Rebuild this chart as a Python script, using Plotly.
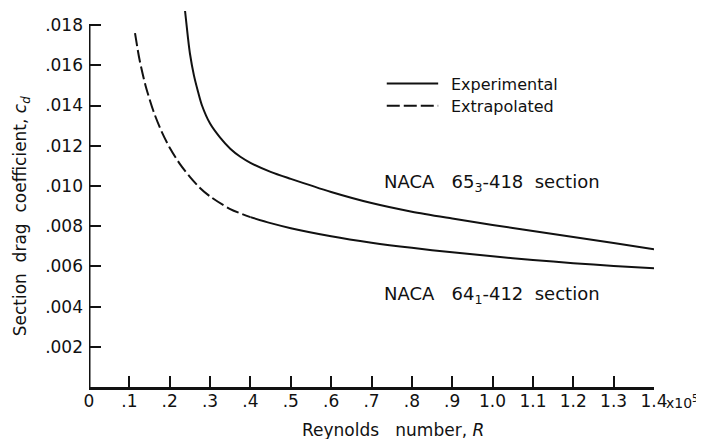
import plotly.graph_objects as go

# NACA 65_3-418 section (experimental, solid)
x_65 = [0.238, 0.245, 0.25, 0.26, 0.27, 0.28, 0.30, 0.325, 0.35, 0.375, 0.40, 0.45, 0.5,
        0.6, 0.7, 0.8, 0.9, 1.0, 1.1, 1.2, 1.3, 1.4]
cd_65 = [0.0187, 0.0174, 0.0166, 0.0155, 0.0147, 0.0140, 0.0131, 0.0124, 0.01185, 0.01145,
         0.01115, 0.01070, 0.01035, 0.00970, 0.00915, 0.00872, 0.00838, 0.00806, 0.00776,
         0.00746, 0.00716, 0.00685]

# NACA 64_1-412 section: extrapolated (dashed) part
x_64_ext = [0.114, 0.125, 0.14, 0.16, 0.18, 0.20, 0.225, 0.25, 0.275, 0.30, 0.35, 0.40]
cd_64_ext = [0.0176, 0.0163, 0.0150, 0.0137, 0.0127, 0.0119, 0.0111, 0.01045, 0.0099,
             0.00948, 0.00885, 0.00845]
# NACA 64_1-412 section: experimental (solid) part
x_64_exp = [0.40, 0.45, 0.5, 0.6, 0.7, 0.8, 0.9, 1.0, 1.1, 1.2, 1.3, 1.4]
cd_64_exp = [0.00845, 0.00815, 0.0079, 0.0075, 0.00718, 0.00692, 0.0067, 0.0065, 0.00632,
             0.00616, 0.00602, 0.0059]

x_tickvals = [0, 0.1, 0.2, 0.3, 0.4, 0.5, 0.6, 0.7, 0.8, 0.9, 1.0, 1.1, 1.2, 1.3, 1.4]
x_ticktext = ["0", ".1", ".2", ".3", ".4", ".5", ".6", ".7", ".8", ".9", "1.0", "1.1",
              "1.2", "1.3", "1.4"]
y_tickvals = [0.002, 0.004, 0.006, 0.008, 0.010, 0.012, 0.014, 0.016, 0.018]
y_ticktext = [".002", ".004", ".006", ".008", ".010", ".012", ".014", ".016", ".018"]

legend_labels = ["Experimental", "Extrapolated"]
curve_labels = ["NACA&nbsp;&nbsp;&nbsp;65<sub>3</sub>-418&nbsp;&nbsp;section",
                "NACA&nbsp;&nbsp;&nbsp;64<sub>1</sub>-412&nbsp;&nbsp;section"]

FONT = "DejaVu Sans"
BLACK = "#111111"
DASH = "13px,4px"

fig = go.Figure()
fig.add_trace(go.Scatter(x=x_65, y=cd_65, mode="lines",
                         line=dict(color=BLACK, width=2, shape="spline", smoothing=0.8),
                         showlegend=False))
fig.add_trace(go.Scatter(x=x_64_ext, y=cd_64_ext, mode="lines",
                         line=dict(color=BLACK, width=2, dash=DASH, shape="spline", smoothing=0.8),
                         showlegend=False))
fig.add_trace(go.Scatter(x=x_64_exp, y=cd_64_exp, mode="lines",
                         line=dict(color=BLACK, width=2, shape="spline", smoothing=0.8),
                         showlegend=False))

# y axis line (ends at .018)
fig.add_shape(type="line", x0=0, x1=0, y0=0, y1=0.018, xref="x", yref="y",
              line=dict(color=BLACK, width=3))

# legend (drawn manually)
fig.add_shape(type="line", xref="paper", yref="paper", x0=0.527, x1=0.618, y0=0.803, y1=0.803,
              line=dict(color=BLACK, width=2))
fig.add_shape(type="line", xref="paper", yref="paper", x0=0.527, x1=0.618, y0=0.744, y1=0.744,
              line=dict(color=BLACK, width=2, dash=DASH))
for lbl, yy in zip(legend_labels, [0.800, 0.741]):
    fig.add_annotation(x=0.637, y=yy, xref="paper", yref="paper", text=lbl, showarrow=False,
                       xanchor="left", yanchor="middle",
                       font=dict(family=FONT, size=16, color=BLACK))

for lbl, yy in zip(curve_labels, [0.540, 0.243]):
    fig.add_annotation(x=0.518, y=yy, xref="paper", yref="paper", text=lbl, showarrow=False,
                       xanchor="left", yanchor="middle",
                       font=dict(family=FONT, size=18, color=BLACK))

fig.add_annotation(x=1.4, y=0, xref="x", yref="paper", text="x10<sup>5</sup>", showarrow=False,
                   xanchor="left", yanchor="middle", xshift=10, yshift=-15,
                   font=dict(family=FONT, size=14, color=BLACK))
fig.add_annotation(x=0.538, y=-0.114, xref="paper", yref="paper",
                   text="Reynolds&nbsp;&nbsp;&nbsp;number, <i>R</i>", showarrow=False,
                   xanchor="center", yanchor="middle",
                   font=dict(family=FONT, size=17, color=BLACK))
fig.add_annotation(x=-0.120, y=0.452, xref="paper", yref="paper", textangle=-90,
                   text="Section&nbsp;&nbsp;drag&nbsp;&nbsp;coefficient, <i>c<sub>d</sub></i>",
                   showarrow=False, xanchor="center", yanchor="middle",
                   font=dict(family=FONT, size=17, color=BLACK))

# page body has an 8px margin, so the figure is 8px smaller than the window
fig.update_layout(
    width=696, height=431,
    margin=dict(l=81, r=50, t=1, b=52),
    paper_bgcolor="white", plot_bgcolor="white",
    font=dict(family=FONT, size=17, color=BLACK),
    showlegend=False,
    xaxis=dict(range=[0, 1.4], tickvals=x_tickvals, ticktext=x_ticktext, ticks="inside",
               ticklen=11, tickwidth=2, tickcolor=BLACK, showline=True, linecolor=BLACK,
               linewidth=3, showgrid=False, zeroline=False, automargin=False,
               ticklabelstandoff=-3,
               tickfont=dict(family=FONT, size=17, color=BLACK)),
    yaxis=dict(range=[0, 0.0188], tickvals=y_tickvals, ticktext=y_ticktext, ticks="inside",
               ticklen=12, tickwidth=2, tickcolor=BLACK, showline=False, showgrid=False,
               zeroline=False, automargin=False, ticklabelstandoff=5,
               tickfont=dict(family=FONT, size=17, color=BLACK)),
)

fig.write_html("out.html")
